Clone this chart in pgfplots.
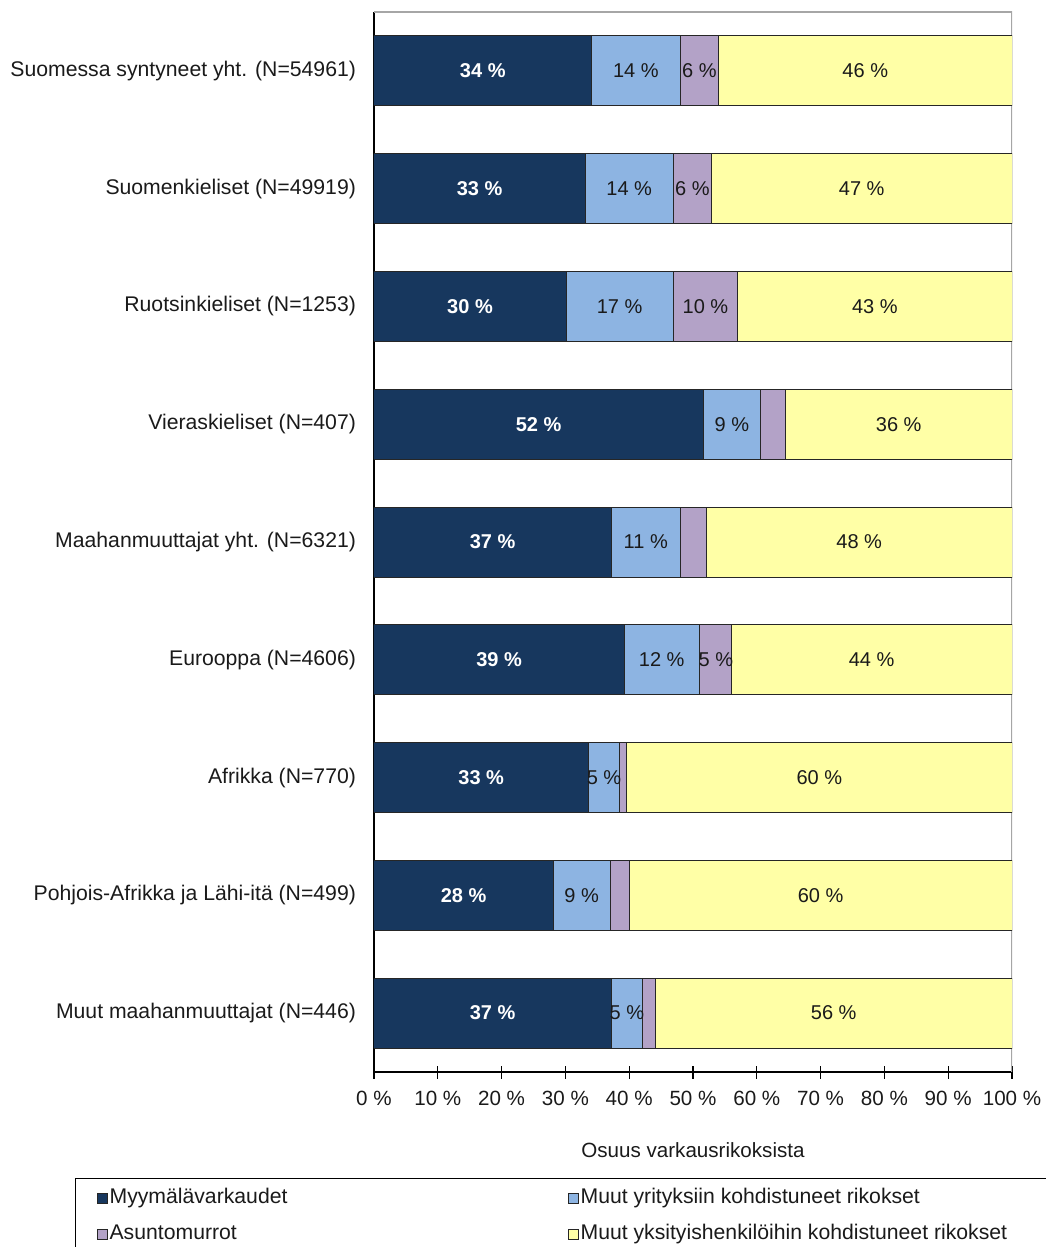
\documentclass[border=0pt]{standalone}
\usepackage{fontspec}
\setmainfont{Liberation Sans}
\usepackage{pgfplots}
\usepackage{pgfplotstable}
\pgfplotsset{compat=1.18}
\definecolor{c1}{HTML}{17375E}
\definecolor{c2}{HTML}{8DB4E2}
\definecolor{c3}{HTML}{B3A2C7}
\definecolor{c4}{HTML}{FFFFA6}
\definecolor{edge}{HTML}{262626}
\definecolor{txt}{HTML}{1A1A1A}

\pgfplotstableread{
y a b c d
8 34.1 13.9 6.0 46.0
7 33.1 13.8 6.0 47.1
6 30.1 16.8 10.1 43.0
5 51.6 9.0 3.9 35.5
4 37.2 10.8 4.1 47.9
3 39.2 11.8 5.0 44.0
2 33.6 4.9 1.1 60.4
1 28.1 8.9 3.0 60.0
0 37.2 4.9 2.0 55.9
}\datatab

\pgfplotstableread{
x y l
17.05 8 34
16.55 7 33
15.05 6 30
25.8 5 52
18.6 4 37
19.6 3 39
16.8 2 33
14.05 1 28
18.6 0 37
}\whitelab

\pgfplotstableread{
x y l
41.05 8 14
51.0 8 6
77.0 8 46
40.0 7 14
49.9 7 6
76.45 7 47
38.5 6 17
51.95 6 10
78.5 6 43
56.1 5 9
82.25 5 36
42.6 4 11
76.05 4 48
45.1 3 12
53.6 3 5
78.0 3 44
36.05 2 5
69.8 2 60
32.55 1 9
70.0 1 60
39.65 0 5
72.05 0 56
}\darklab

\begin{document}
\begin{tikzpicture}
\useasboundingbox (-187pt,-87.5pt) rectangle (335.5pt,536pt);
\pgfplotsset{common/.style={
  at={(0pt,0pt)}, anchor=south west,
  width=319pt, height=530pt, scale only axis,
  xmin=0, xmax=100, ymin=-0.5, ymax=8.5,
}}
\begin{axis}[common,
  xbar stacked, bar width=35pt,
  axis x line*=bottom, axis y line*=left,
  axis line style={black, line width=0.6pt},
  xtick={0,10,...,100},
  xticklabels={0 \%,10 \%,20 \%,30 \%,40 \%,50 \%,60 \%,70 \%,80 \%,90 \%,100 \%},
  xtick align=center, major tick length=6.5pt,
  xtick style={black, line width=0.6pt},
  xticklabel style={yshift=-3pt, text=txt, font=\fontsize{10.3pt}{12pt}\selectfont},
  ytick={0,...,8},
  yticklabels={Muut maahanmuuttajat (N=446),Pohjois-Afrikka ja Lähi-itä (N=499),Afrikka (N=770),Eurooppa (N=4606),Maahanmuuttajat yht. (N=6321),Vieraskieliset (N=407),Ruotsinkieliset (N=1253),Suomenkieliset (N=49919),Suomessa syntyneet yht. (N=54961)},
  ytick style={draw=none},
  yticklabel style={xshift=-5.5pt, text=txt, font=\fontsize{10.6pt}{12pt}\selectfont},
  xlabel={Osuus varkausrikoksista},
  x label style={at={(axis description cs:0.5,0)}, anchor=center, yshift=-39pt, text=txt, font=\fontsize{10.3pt}{12pt}\selectfont},
  legend columns=2,
  legend cell align=left,
  legend image code/.code={\draw[#1] (0pt,-2.5pt) rectangle (5pt,2.5pt);},
  legend style={at={(axis description cs:-0.46865,-0.1)}, anchor=north west,
    draw=black, line width=0.6pt, inner xsep=10.5pt, inner ysep=4pt, row sep=6pt,
    font=\fontsize{10.6pt}{12pt}\selectfont,
    nodes={inner sep=1pt, text height=7.5pt, text depth=2.5pt, text=txt}},
]
\addplot[fill=c1, draw=edge, line width=0.5pt] table[x=a, y=y]{\datatab};
\addplot[fill=c2, draw=edge, line width=0.5pt] table[x=b, y=y]{\datatab};
\addplot[fill=c3, draw=edge, line width=0.5pt] table[x=c, y=y]{\datatab};
\addplot[fill=c4, draw=edge, line width=0.5pt] table[x=d, y=y]{\datatab};
\addlegendentry{\makebox[228pt][l]{Myymälävarkaudet}}
\addlegendentry{\makebox[240pt][l]{Muut yrityksiin kohdistuneet rikokset}}
\addlegendentry{\makebox[228pt][l]{Asuntomurrot}}
\addlegendentry{\makebox[240pt][l]{Muut yksityishenkilöihin kohdistuneet rikokset}}
\draw[gray!70, line width=0.6pt] (rel axis cs:0,1) -- (rel axis cs:1,1) -- (rel axis cs:1,0);
\end{axis}
\begin{axis}[common, hide axis]
\addplot[only marks, mark size=0pt, point meta=explicit symbolic,
  nodes near coords={\pgfplotspointmeta\ \%},
  every node near coord/.style={anchor=center, text=white, font=\bfseries}]
  table[x=x, y=y, meta=l]{\whitelab};
\addplot[only marks, mark size=0pt, point meta=explicit symbolic,
  nodes near coords={\pgfplotspointmeta\ \%},
  every node near coord/.style={anchor=center, text=txt}]
  table[x=x, y=y, meta=l]{\darklab};
\end{axis}
\end{tikzpicture}
\end{document}
